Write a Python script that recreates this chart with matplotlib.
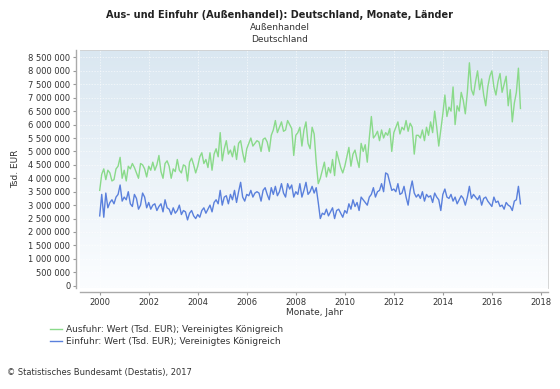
import numpy as np
import matplotlib
matplotlib.use("Agg")
import matplotlib.pyplot as plt
from matplotlib.ticker import FuncFormatter

# monthly values, Jan 2000 .. Mar 2017, in 1000 Tsd. EUR
ausfuhr = [
    3550, 4150, 4350, 3950, 4300, 4200, 3900, 3950, 4350, 4450, 4780, 4000,  # 2000
    4300, 3900, 4450, 4350, 4550, 4400, 4200, 4000, 4550, 4500, 4350, 4050,  # 2001
    4450, 4300, 4600, 4300, 4500, 4850, 4250, 4000, 4550, 4650, 4450, 4000,  # 2002
    4350, 4250, 4700, 4300, 4200, 4500, 4450, 3900, 4600, 4750, 4500, 4200,  # 2003
    4450, 4800, 4950, 4550, 4700, 4400, 4950, 4300, 4900, 5100, 4800, 5700,  # 2004
    4650, 5100, 5400, 4900, 5050, 4800, 5200, 4700, 5300, 5400, 4950, 4600,  # 2005
    5100, 5300, 5500, 5200, 5300, 5400, 5350, 5000, 5450, 5500, 5350, 5000,  # 2006
    5600, 5800, 6150, 5700, 5900, 6100, 5750, 5800, 6150, 6000, 5850, 4850,  # 2007
    5600, 5700, 5900, 5200, 5800, 6100, 5300, 5100, 5900, 5650, 4600, 3800,  # 2008
    4000, 4300, 4600, 4050, 4400, 4200, 4700, 4100, 5000, 4700, 4400, 4200,  # 2009
    4450, 4800, 5150, 4450, 4900, 5050, 4700, 4400, 5300, 5000, 5250, 4600,  # 2010
    5500, 6300, 5500, 5600, 5750, 5400, 5800, 5500, 5700, 5600, 5850, 5000,  # 2011
    5700, 5900, 6100, 5650, 5900, 5800, 6150, 5750, 6050, 5900, 4900, 5600,  # 2012
    5600, 5500, 5800, 5400, 5900, 5600, 6100, 5700, 6500, 5900, 5200, 5800,  # 2013
    6400, 7100, 6300, 6650, 6500, 7400, 6000, 6700, 6500, 7200, 6900, 6400,  # 2014
    7200, 8300, 7300, 7100, 7600, 8000, 7300, 7700, 7100, 6700, 7400, 7800,  # 2015
    8000, 7400, 7100, 7600, 7900, 7200, 7500, 7800, 6700, 7300, 6100, 6800,  # 2016
    7200, 8100, 6600,                                                        # 2017
]

einfuhr = [
    2600, 3400, 2550, 3450, 2900, 3100, 3200, 3050, 3300, 3400, 3750, 3150,  # 2000
    3300, 3200, 3500, 3050, 2950, 3400, 3250, 2850, 3000, 3450, 3300, 2900,  # 2001
    3100, 2850, 3000, 3050, 2800, 2950, 3050, 2750, 3200, 2900, 2850, 2650,  # 2002
    2900, 2700, 2800, 3000, 2650, 2800, 2750, 2450, 2700, 2800, 2600, 2500,  # 2003
    2650, 2550, 2800, 2900, 2700, 2850, 3000, 2750, 3100, 3200, 3050, 3550,  # 2004
    3000, 3300, 3350, 3050, 3400, 3200, 3550, 3100, 3500, 3850, 3300, 3150,  # 2005
    3400, 3350, 3550, 3300, 3450, 3500, 3450, 3150, 3550, 3650, 3400, 3200,  # 2006
    3650, 3400, 3700, 3350, 3500, 3800, 3450, 3300, 3800, 3600, 3750, 3300,  # 2007
    3500, 3400, 3800, 3300, 3550, 3850, 3400, 3500, 3700, 3450, 3650, 3100,  # 2008
    2500, 2700, 2650, 2850, 2600, 2750, 2900, 2500, 2800, 2850, 2700, 2550,  # 2009
    2800, 2700, 3050, 2850, 3200, 2950, 3100, 2800, 3300, 3200, 3100, 3000,  # 2010
    3300, 3400, 3650, 3300, 3500, 3550, 3800, 3500, 4200, 4150, 3850, 3550,  # 2011
    3600, 3500, 3800, 3400, 3450, 3700, 3300, 3000, 3550, 3900, 3450, 3300,  # 2012
    3400, 3250, 3500, 3150, 3400, 3300, 3350, 3100, 3450, 3300, 3200, 2800,  # 2013
    3400, 3600, 3300, 3250, 3400, 3150, 3300, 3050, 3200, 3350, 3250, 3000,  # 2014
    3300, 3700, 3250, 3400, 3300, 3200, 3350, 3000, 3250, 3300, 3150, 3050,  # 2015
    2950, 3300, 3100, 3150, 2950, 3000, 2850, 3100, 3000, 2950, 2800, 3150,  # 2016
    3200, 3700, 3050,                                                        # 2017
]

start_year = 2000
xticks = list(range(2000, 2019, 2))
yticks = list(range(0, 8500001, 500000))

ausfuhr = np.array(ausfuhr) * 1000
einfuhr = np.array(einfuhr) * 1000
t = start_year + np.arange(len(ausfuhr)) / 12.0

fig = plt.figure(figsize=(5.6, 3.89), dpi=100)
ax = fig.add_axes([0.143, 0.26, 0.836, 0.611])

# light blue gradient background, blue at top, almost white at bottom
grad = np.linspace(0, 1, 256).reshape(-1, 1)
cmap = matplotlib.colors.LinearSegmentedColormap.from_list("bg", ["#fbfdff", "#dae7f1"])
ax.imshow(grad, aspect="auto", cmap=cmap, extent=[1999.2, 2018.3, -80000, 8770000],
          origin="lower", zorder=0)

ax.plot(t, ausfuhr, color="#8ada8a", lw=1.0, zorder=3,
        label="Ausfuhr: Wert (Tsd. EUR); Vereinigtes Königreich")
ax.plot(t, einfuhr, color="#5a80dc", lw=1.0, zorder=3,
        label="Einfuhr: Wert (Tsd. EUR); Vereinigtes Königreich")

ax.set_xlim(1999.2, 2018.3)
ax.set_ylim(-80000, 8770000)
ax.set_xticks(xticks)
ax.set_yticks(yticks)
ax.yaxis.set_major_formatter(FuncFormatter(lambda v, p: f"{int(v):,}".replace(",", " ")))
ax.tick_params(labelsize=6, length=2, color="#999999", labelcolor="#333333", pad=2)
ax.grid(True, color="#ffffff", lw=0.5, ls=(0, (2, 2)), alpha=0.8)

for s in ["top", "right"]:
    ax.spines[s].set_color("#d0d0d0")
    ax.spines[s].set_linewidth(0.6)
for s in ["left", "bottom"]:
    ax.spines[s].set_position(("outward", 3))
    ax.spines[s].set_color("#aaaaaa")
    ax.spines[s].set_linewidth(1.0)

ax.set_xlabel("Monate, Jahr", fontsize=6.5, color="#333333", labelpad=1)
ax.set_ylabel("Tsd. EUR", fontsize=6.5, color="#333333", labelpad=6)

fig.text(0.5, 0.955, "Aus- und Einfuhr (Außenhandel): Deutschland, Monate, Länder",
         ha="center", fontsize=7, fontweight="bold", color="#222222")
fig.text(0.5, 0.922, "Außenhandel", ha="center", fontsize=6.5, color="#333333")
fig.text(0.5, 0.893, "Deutschland", ha="center", fontsize=6.5, color="#333333")

fig.legend(loc="upper left", bbox_to_anchor=(0.075, 0.185), frameon=False,
           fontsize=6.5, handlelength=1.3, handletextpad=0.5, labelspacing=0.3,
           labelcolor="#333333")

fig.text(0.012, 0.035, "© Statistisches Bundesamt (Destatis), 2017",
         fontsize=6, color="#333333")

fig.savefig("out.png", dpi=100, facecolor="white")
